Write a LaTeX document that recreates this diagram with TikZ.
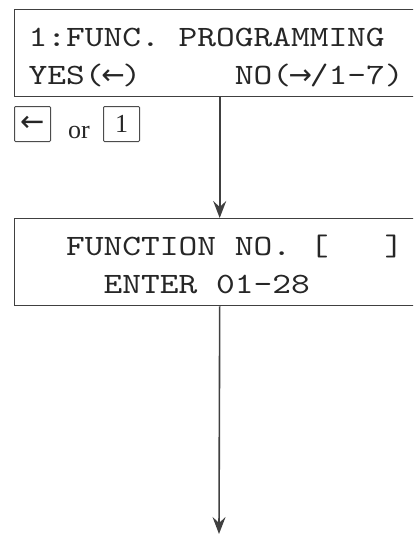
\documentclass[tikz,border=0pt]{standalone}
\usepackage{fontspec}
\setmainfont{Liberation Serif}
\newfontfamily\lcdfont{lmmono10-regular}[Extension=.otf, FakeStretch=1.21]
\newfontfamily\arrowfont{DejaVu Sans}
\usetikzlibrary{positioning,arrows.meta}
\newcommand{\lcdstrut}{\rule[-2pt]{0pt}{29pt}}
\newcommand{\lcdsp}{\hphantom{0}}
\newcommand{\lcdarrow}[1]{\hbox to 18.74pt{\hss{\arrowfont\fontsize{28}{28}\selectfont#1}\hss}}

\begin{document}
\begin{tikzpicture}[
  x=1pt, y=-1pt,
  lcd/.style={draw=black!75, line width=1.4pt, anchor=north west,
              minimum width=410pt, minimum height=87pt, inner xsep=14pt,
              inner ysep=0pt, text width=382pt, align=left, text=black!85,
              font=\lcdfont\fontsize{29.5}{38}\selectfont},
  keycap/.style={draw=black!70, line width=1pt, rounded corners=1pt,
              minimum width=36pt, minimum height=35pt, inner sep=0pt,
              text=black!85, font=\fontsize{26}{26}\selectfont},
  flow/.style={draw=black!75, line width=1.6pt,
              -{Stealth[length=17pt, width=13pt, inset=6pt]}}
]
\useasboundingbox (0,0) rectangle (413,536);
\clip (0,0) rectangle (413,536);

% display screens
\node[lcd] (funcbox) at (14,9)
  {\lcdstrut 1:FUNC.\lcdsp PROGRAMMING\\
   \lcdstrut YES(\lcdarrow{←})\lcdsp\lcdsp\lcdsp\lcdsp\lcdsp NO(\lcdarrow{→}/1-7)};
\node[lcd] (numbox) at (14,218)
  {\lcdstrut\lcdsp\lcdsp FUNCTION\lcdsp NO.\lcdsp[\lcdsp\lcdsp\lcdsp]\\
   \lcdstrut\lcdsp\lcdsp\lcdsp\lcdsp ENTER\lcdsp 01-28};

% keys to press
\node[keycap, anchor=north west] (keyleft) at (14,106)
  {\arrowfont\fontsize{29}{29}\selectfont ←};
\node[right=17pt of keyleft, inner sep=0pt, yshift=-8.5pt, text=black!85,
      font=\fontsize{26}{26}\selectfont] (orword) {or};
\node[keycap, right=52pt of keyleft] (keyone) {1};

% edges
\coordinate (exitpt) at (219,534);
\draw[flow] (funcbox.south) -- (numbox.north);
\draw[flow] (numbox.south) -- (exitpt);
\end{tikzpicture}
\end{document}
